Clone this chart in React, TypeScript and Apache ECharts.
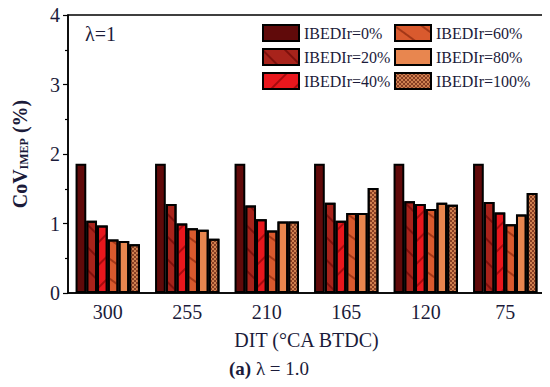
import React, { useEffect, useRef } from "react";
import * as echarts from "echarts";

const categories = ["300", "255", "210", "165", "120", "75"];
const seriesNames = ["IBEDIr=0%", "IBEDIr=20%", "IBEDIr=40%", "IBEDIr=60%", "IBEDIr=80%", "IBEDIr=100%"];
const ir0 = [1.86, 1.86, 1.86, 1.86, 1.86, 1.86];
const ir20 = [1.04, 1.28, 1.26, 1.3, 1.32, 1.31];
const ir40 = [0.97, 1.0, 1.06, 1.04, 1.28, 1.16];
const ir60 = [0.77, 0.93, 0.9, 1.15, 1.21, 0.99];
const ir80 = [0.75, 0.91, 1.03, 1.15, 1.3, 1.13];
const ir100 = [0.7, 0.78, 1.03, 1.51, 1.27, 1.44];
const yTicks = [0, 1, 2, 3, 4];

const FONT = "Liberation Serif";
const TXT = "#1b1b3a";

export default function App() {
  const ref = useRef<HTMLDivElement>(null);
  useEffect(() => {
    if (!ref.current) return;
    const chart = echarts.init(ref.current, undefined, { renderer: "svg" });
    const values = [ir0, ir20, ir40, ir60, ir80, ir100];
    const fills = ["#600a0a", "#a8231b", "#e8171d", "#d95a2e", "#e8864f", "#cf8050"];
    const decals: any[] = [
      undefined,
      { symbol: "rect", symbolSize: 1, dashArrayX: [1, 0], dashArrayY: [1.5, 14], rotation: Math.PI / 4, color: "rgba(90,0,0,0.55)" },
      { symbol: "rect", symbolSize: 1, dashArrayX: [1, 0], dashArrayY: [1.5, 14], rotation: -Math.PI / 4, color: "rgba(110,0,0,0.55)" },
      { symbol: "rect", symbolSize: 1, dashArrayX: [1, 0], dashArrayY: [1.5, 14], rotation: Math.PI / 5, color: "rgba(110,20,0,0.5)" },
      { symbol: "circle", symbolSize: 0.5, dashArrayX: [2, 6], dashArrayY: [2, 8], color: "rgba(120,50,20,0.7)" },
      { symbol: "rect", symbolSize: 1, dashArrayX: [[2, 2], [0, 2, 2, 0]], dashArrayY: [2, 0], color: "rgba(110,40,20,0.75)" },
    ];
    const series = seriesNames.map((name, i) => ({
      name,
      type: "bar",
      data: values[i],
      barGap: "0%",
      barCategoryGap: "19%",
      itemStyle: {
        color: fills[i],
        borderColor: "#000000",
        borderWidth: 2,
        decal: decals[i],
      },
    }));
    const legendCommon = {
      orient: "vertical",
      top: 19,
      itemWidth: 36,
      itemHeight: 16,
      itemGap: 6,
      icon: "rect",
      textStyle: { fontFamily: FONT, fontSize: 16, color: TXT },
    };
    chart.setOption({
      animation: false,
      grid: { left: 68, right: 5, top: 15, bottom: 94, show: true, borderColor: "#000", borderWidth: 1.5 },
      legend: [
        { ...legendCommon, left: 257, data: seriesNames.slice(0, 3) },
        { ...legendCommon, left: 389, data: seriesNames.slice(3, 6) },
      ],
      xAxis: {
        type: "category",
        data: categories,
        axisLine: { lineStyle: { color: "#000", width: 1.5 } },
        axisTick: { show: false },
        axisLabel: { fontFamily: FONT, fontSize: 20, color: TXT, margin: 9 },
        name: "DIT (°CA BTDC)",
        nameLocation: "middle",
        nameGap: 37,
        nameTextStyle: { fontFamily: FONT, fontSize: 20, color: TXT },
      },
      yAxis: {
        type: "value",
        min: yTicks[0],
        max: yTicks[yTicks.length - 1],
        interval: 1,
        splitLine: { show: false },
        axisLine: { show: true, lineStyle: { color: "#000", width: 1.5 } },
        axisTick: { show: true, inside: false, length: 5, lineStyle: { color: "#000", width: 1.2 } },
        minorTick: { show: true, splitNumber: 2, length: 3, lineStyle: { color: "#000", width: 1.2 } },
        axisLabel: { fontFamily: FONT, fontSize: 20, color: TXT, margin: 8 },
        name: "{b|CoV}{s|IMEP}{b| (%)}",
        nameLocation: "middle",
        nameGap: 38,
        nameTextStyle: {
          rich: {
            b: { fontFamily: FONT, fontSize: 20, fontWeight: "bold", color: TXT },
            s: { fontFamily: FONT, fontSize: 12, fontWeight: "bold", color: TXT, verticalAlign: "bottom", padding: [8, 0, 0, 0] },
          },
        },
      },
      graphic: [
        {
          type: "text",
          left: 85,
          top: 24,
          style: { text: "λ=1", fontFamily: FONT, fontSize: 20, fill: TXT },
        },
        {
          type: "text",
          left: 229,
          top: 359,
          style: {
            text: "{b|(a)}{n| λ = 1.0}",
            rich: {
              b: { fontFamily: FONT, fontSize: 19, fontWeight: "bold", fill: TXT },
              n: { fontFamily: FONT, fontSize: 19, fill: TXT },
            },
          },
        },
      ],
      series,
    });
    return () => chart.dispose();
  }, []);
  return <div ref={ref} style={{ width: 550, height: 387, margin: -8 }} />;
}
